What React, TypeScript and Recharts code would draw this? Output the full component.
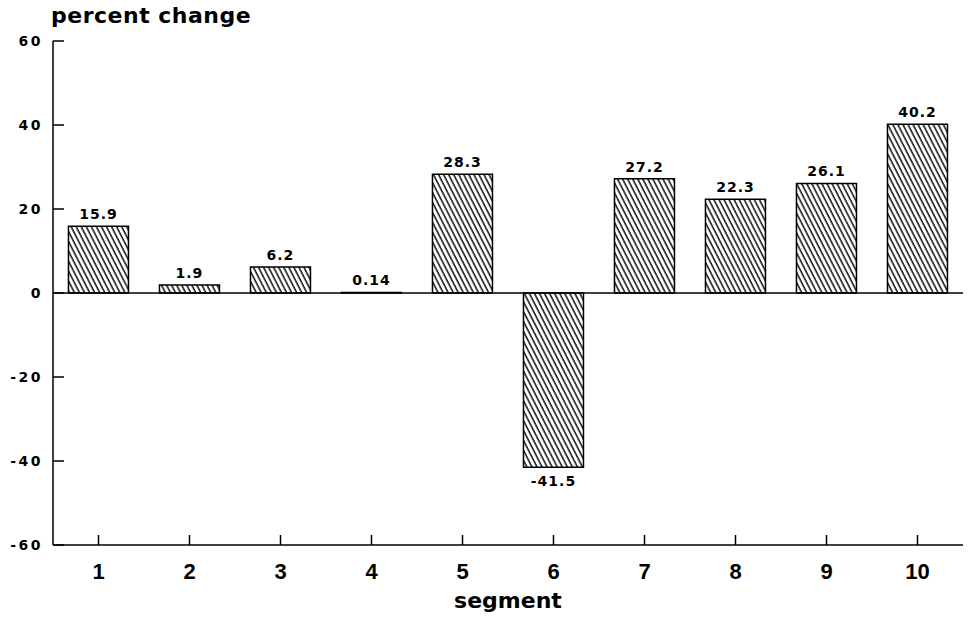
import { BarChart, Bar, XAxis, YAxis, ReferenceLine, LabelList } from 'recharts';

const segments = ['1', '2', '3', '4', '5', '6', '7', '8', '9', '10'];
const percentChange = [15.9, 1.9, 6.2, 0.14, 28.3, -41.5, 27.2, 22.3, 26.1, 40.2];
const yTicks = [-60, -40, -20, 0, 20, 40, 60];

const data = segments.map((s, i) => ({ segment: s, value: percentChange[i] }));

const FONT = '"DejaVu Sans", sans-serif';

// eslint-disable-next-line @typescript-eslint/no-explicit-any
function ValueLabel(props: any) {
  const { x, y, width, height, value } = props;
  const top = Math.min(y, y + height);
  const bottom = Math.max(y, y + height);
  const neg = value < 0;
  return (
    <text
      x={x + width / 2}
      y={neg ? bottom + 19 : top - 7}
      textAnchor="middle"
      fontFamily={FONT}
      fontWeight="bold"
      fontSize={14}
      letterSpacing={1}
      fill="#000"
    >
      {value}
    </text>
  );
}

export default function App() {
  return (
    <div style={{ position: 'absolute', left: 0, top: 0, width: 968, height: 624, background: '#fff' }}>
      <div
        style={{
          position: 'absolute', left: 51, top: 3, fontFamily: FONT, fontWeight: 'bold',
          fontSize: 22, letterSpacing: 0.5, lineHeight: '26px', color: '#000',
        }}
      >
        percent change
      </div>
      <div
        style={{
          position: 'absolute', left: 408, width: 200, top: 588, textAlign: 'center', fontFamily: FONT,
          fontWeight: 'bold', fontSize: 22, lineHeight: '26px', color: '#000',
        }}
      >
        segment
      </div>
      <BarChart
        width={968}
        height={624}
        data={data}
        margin={{ top: 41, right: 5, bottom: 49, left: 8 }}
        barCategoryGap="17%"
      >
        <defs>
          <pattern id="hatch" patternUnits="userSpaceOnUse" width={4.5} height={10} patternTransform="rotate(-27)">
            <rect width={4.5} height={10} fill="#fff" />
            <line x1={1} y1={0} x2={1} y2={10} stroke="#000" strokeWidth={1.4} />
          </pattern>
        </defs>
        <XAxis
          dataKey="segment"
          stroke="#000"
          strokeWidth={1.5}
          tickSize={-10}
          tickMargin={28}
          height={30}
          interval={0}
          tick={{ fontFamily: '"Liberation Sans", Arial, sans-serif', fontWeight: 'bold', fontSize: 22, fill: '#000' }}
        />
        <XAxis xAxisId="top" orientation="top" dataKey="segment" height={0} tick={false} tickLine={false} stroke="#000" strokeWidth={1.5} />
        <YAxis
          domain={[-60, 60]}
          ticks={yTicks}
          width={45}
          stroke="#000"
          strokeWidth={1.5}
          tickSize={-11}
          tickMargin={21}
          tick={{ fontFamily: FONT, fontWeight: 'bold', fontSize: 14, letterSpacing: 2.5, fill: '#000' }}
        />
        <YAxis yAxisId="right" orientation="right" width={0} tick={false} tickLine={false} stroke="#000" strokeWidth={1.5} />
        <ReferenceLine y={0} stroke="#000" strokeWidth={1.5} />
        <Bar dataKey="value" fill="url(#hatch)" stroke="#000" strokeWidth={1.5} isAnimationActive={false}>
          <LabelList dataKey="value" content={<ValueLabel />} />
        </Bar>
      </BarChart>
    </div>
  );
}
